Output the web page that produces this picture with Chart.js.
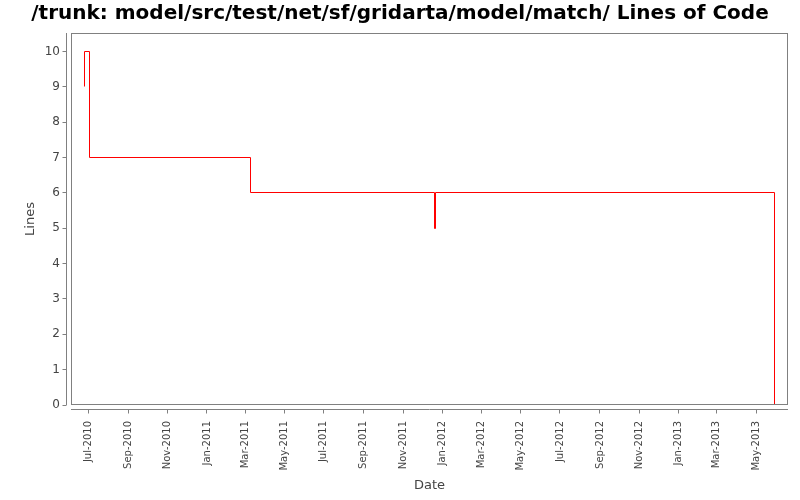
<!DOCTYPE html>
<html>
<head>
<meta charset="utf-8">
<script src="https://cdn.jsdelivr.net/npm/chart.js@4/dist/chart.umd.min.js"></script>
<style>
  html, body { margin: 0; padding: 0; background: #fff; }
  #wrap { width: 800px; height: 500px; }
</style>
</head>
<body>
<div id="wrap"><canvas id="c" width="800" height="500"></canvas></div>
<script>
// ---- data ----
const pointDates = ["2010-06-25T00:00", "2010-06-25T02:00", "2010-07-03T00:00", "2011-03-09T00:00", "2011-12-19T12:00", "2011-12-21T00:00", "2013-05-29T12:00"];
const pointValues = [9, 10, 7, 6, 5, 6, 0];
const xTickDates = ["2010-07-01", "2010-09-01", "2010-11-01", "2011-01-01", "2011-03-01", "2011-05-01", "2011-07-01", "2011-09-01", "2011-11-01", "2012-01-01", "2012-03-01", "2012-05-01", "2012-07-01", "2012-09-01", "2012-11-01", "2013-01-01", "2013-03-01", "2013-05-01"];
const xTickLabels = ["Jul-2010", "Sep-2010", "Nov-2010", "Jan-2011", "Mar-2011", "May-2011", "Jul-2011", "Sep-2011", "Nov-2011", "Jan-2012", "Mar-2012", "May-2012", "Jul-2012", "Sep-2012", "Nov-2012", "Jan-2013", "Mar-2013", "May-2013"];
const yTicks = [0, 1, 2, 3, 4, 5, 6, 7, 8, 9, 10];
const xRange = ["2010-06-04T06:00", "2013-06-19T12:00"];
const yRange = [0, 10.52];

function toMs(s) {
  const [d, t] = s.split("T");
  const [Y, M, D] = d.split("-").map(Number);
  let h = 0, m = 0;
  if (t) { [h, m] = t.split(":").map(Number); }
  return Date.UTC(Y, M - 1, D, h, m);
}

const points = pointDates.map((d, i) => ({ x: toMs(d), y: pointValues[i] }));
const xTickValues = xTickDates.map(toMs);

const GRAY = "#808080";

// snap the library-computed point positions to pixel centres for crisp 1px lines
const crisp = {
  id: "crisp",
  afterDatasetsUpdate(chart) {
    const meta = chart.getDatasetMeta(0);
    meta.data.forEach(p => {
      p.x = Math.floor(p.x) + 0.5;
      p.y = Math.floor(p.y) + 0.5;
    });
    if (meta.dataset) meta.dataset._path = undefined;
  }
};

const frameAxes = {
  id: "frameAxes",
  afterDraw(chart) {
    const { ctx, chartArea: a, scales } = chart;
    ctx.save();
    ctx.strokeStyle = GRAY;
    ctx.lineWidth = 1;
    // plot frame
    ctx.strokeRect(Math.round(a.left) + 0.5, Math.round(a.top) + 0.5,
      Math.round(a.right - a.left) - 1, Math.round(a.bottom - a.top) - 1);
    // y axis line (offset)
    const yx = Math.round(a.left) - 4.5;
    ctx.beginPath();
    ctx.moveTo(yx, Math.round(a.top));
    ctx.lineTo(yx, Math.round(a.bottom));
    scales.y.ticks.forEach(t => {
      const py = Math.floor(scales.y.getPixelForValue(t.value)) + 0.5;
      ctx.moveTo(yx - 4, py);
      ctx.lineTo(yx, py);
    });
    // x axis line (offset)
    const xy = Math.round(a.bottom) + 4.5;
    ctx.moveTo(Math.round(a.left), xy);
    ctx.lineTo(Math.round(a.right), xy);
    scales.x.ticks.forEach(t => {
      const px = Math.floor(scales.x.getPixelForValue(t.value)) + 0.5;
      ctx.moveTo(px, xy);
      ctx.lineTo(px, xy + 4);
    });
    ctx.stroke();
    ctx.restore();
  }
};

new Chart(document.getElementById("c"), {
  type: "line",
  data: {
    datasets: [{
      data: points,
      borderColor: "#ff0000",
      borderWidth: 1,
      pointRadius: 0,
      fill: false,
      stepped: "before",
      tension: 0
    }]
  },
  options: {
    responsive: false,
    animation: false,
    layout: { padding: { left: 0, right: 0, top: 0, bottom: 0 } },
    plugins: {
      legend: { display: false },
      tooltip: { enabled: false },
      title: {
        display: true,
        text: "/trunk: model/src/test/net/sf/gridarta/model/match/ Lines of Code",
        color: "#000",
        font: { family: "'DejaVu Sans'", size: 20, weight: "bold" },
        padding: { top: 2, bottom: 7 }
      }
    },
    scales: {
      x: {
        type: "linear",
        min: toMs(xRange[0]),
        max: toMs(xRange[1]),
        afterBuildTicks: s => { s.ticks = xTickValues.map(v => ({ value: v })); },
        afterFit: s => { s.height = 95; },
        grid: { display: false, drawTicks: false },
        border: { display: false },
        ticks: {
          autoSkip: false,
          minRotation: 90,
          maxRotation: 90,
          padding: 16,
          color: "#444",
          font: { family: "'DejaVu Sans'", size: 10 },
          callback: (v, i) => xTickLabels[i]
        },
        title: {
          display: true,
          text: "Date",
          color: "#444",
          font: { family: "'DejaVu Sans'", size: 13 },
          padding: { top: 0, bottom: 7 }
        }
      },
      y: {
        type: "linear",
        min: yRange[0],
        max: yRange[1],
        afterBuildTicks: s => { s.ticks = yTicks.map(v => ({ value: v })); },
        afterFit: s => { s.width = 71; },
        grid: { display: false, drawTicks: false },
        border: { display: false },
        ticks: {
          padding: 11,
          color: "#444",
          font: { family: "'DejaVu Sans'", size: 12 },
          callback: v => String(v)
        },
        title: {
          display: true,
          text: "Lines",
          color: "#444",
          font: { family: "'DejaVu Sans'", size: 13 },
          padding: { top: 23, bottom: 0 }
        }
      },
      spacer: {
        type: "linear",
        position: "right",
        display: true,
        afterFit: s => { s.width = 12; },
        grid: { display: false, drawTicks: false },
        border: { display: false },
        ticks: { display: false }
      }
    }
  },
  plugins: [crisp, frameAxes]
});
</script>
</body>
</html>
